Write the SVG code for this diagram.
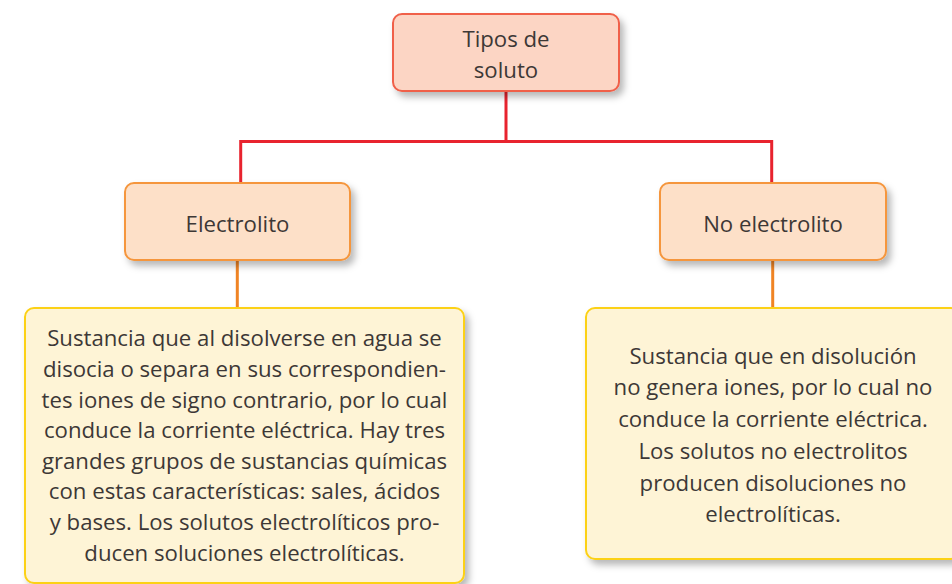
<svg xmlns="http://www.w3.org/2000/svg" width="952" height="584" viewBox="0 0 952 584">
<defs>
<filter id="sh" x="-10%" y="-10%" width="130%" height="140%">
<feDropShadow dx="4" dy="5" stdDeviation="3.5" flood-color="#000" flood-opacity="0.28"/>
</filter>
<style>
text{font-family:"Open Sans","Noto Sans",sans-serif;fill:#3d3836;font-size:22.2px;text-anchor:middle}
.top{fill:#fcd5c4;stroke:#f0604a;stroke-width:2}
.mid{fill:#fde0c8;stroke:#f5963c;stroke-width:2}
.txt{fill:#fef4d6;stroke:#fcd116;stroke-width:2}
.red{stroke:#e8232e;stroke-width:3;fill:none}
.org{stroke:#f08424;stroke-width:3;fill:none}
</style>
</defs>
<rect width="952" height="584" fill="#fff"/>
<g id="connectors">
<path class="red" d="M506 91V141.5H240.7V183M506 141.5H771.7V183"/>
<path class="org" d="M237.3 260V308"/>
<path class="org" d="M772.7 260V308"/>
</g>
<g id="tipos">
<rect class="top" x="393" y="14" width="226" height="77" rx="9" filter="url(#sh)"/>
<text x="506" y="47">Tipos de</text>
<text x="506" y="78">soluto</text>
</g>
<g id="electrolito">
<rect class="mid" x="125" y="183" width="225" height="77" rx="9" filter="url(#sh)"/>
<text x="237.5" y="232">Electrolito</text>
</g>
<g id="noelectrolito">
<rect class="mid" x="660" y="183" width="226" height="77" rx="9" filter="url(#sh)"/>
<text x="773" y="232">No electrolito</text>
</g>
<g id="desc-electrolito">
<rect class="txt" x="25" y="308" width="439" height="275" rx="9" filter="url(#sh)"/>
<text x="244.5" y="346">Sustancia que al disolverse en agua se</text>
<text x="244.5" y="377">disocia o separa en sus correspondien-</text>
<text x="244.5" y="408">tes iones de signo contrario, por lo cual</text>
<text x="244.5" y="438">conduce la corriente eléctrica. Hay tres</text>
<text x="244.5" y="469">grandes grupos de sustancias químicas</text>
<text x="244.5" y="499">con estas características: sales, ácidos</text>
<text x="244.5" y="530">y bases. Los solutos electrolíticos pro-</text>
<text x="244.5" y="561">ducen soluciones electrolíticas.</text>
</g>
<g id="desc-noelectrolito">
<rect class="txt" x="586" y="308" width="374" height="251" rx="9" filter="url(#sh)"/>
<text x="773" y="364">Sustancia que en disolución</text>
<text x="773" y="395">no genera iones, por lo cual no</text>
<text x="773" y="427">conduce la corriente eléctrica.</text>
<text x="773" y="459">Los solutos no electrolitos</text>
<text x="773" y="491">producen disoluciones no</text>
<text x="773" y="522">electrolíticas.</text>
</g>
</svg>
